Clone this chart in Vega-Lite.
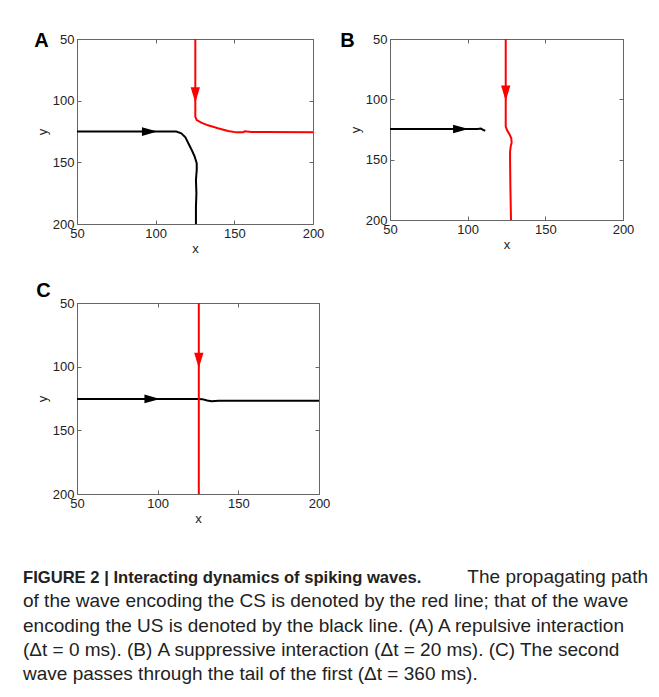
{
  "$schema": "https://vega.github.io/schema/vega-lite/v6.json",
  "padding": {"left": 23, "top": 30, "right": 5, "bottom": 5},
  "background": "white",
  "config": {
    "font": "Liberation Sans",
    "view": {"stroke": "#666666", "strokeWidth": 1},
    "axis": {
      "grid": false, "domain": false, "ticks": true, "tickSize": -4, "tickColor": "#666666",
      "labelFont": "Liberation Sans", "labelFontSize": 13, "labelColor": "#222222", "labelPadding": 7,
      "labelFlush": false, "labelOverlap": false,
      "titleFont": "Liberation Sans", "titleFontSize": 13, "titleFontWeight": "normal", "titleColor": "#222222"
    },
    "title": {"fontSize": 20, "fontWeight": "bold", "anchor": "start", "frame": "bounds", "color": "#000000"}
  },
  "datasets": {
    "paths": [
      {"p": "A", "w": "US", "i": 0, "x": 50, "y": 125.1},
      {"p": "A", "w": "US", "i": 1, "x": 100, "y": 125.1},
      {"p": "A", "w": "US", "i": 2, "x": 113.1, "y": 125.1},
      {"p": "A", "w": "US", "i": 3, "x": 116.3, "y": 126.5},
      {"p": "A", "w": "US", "i": 4, "x": 118.9, "y": 129.7},
      {"p": "A", "w": "US", "i": 5, "x": 121, "y": 135.1},
      {"p": "A", "w": "US", "i": 6, "x": 123.1, "y": 140.5},
      {"p": "A", "w": "US", "i": 7, "x": 124.8, "y": 145.4},
      {"p": "A", "w": "US", "i": 8, "x": 126.1, "y": 150.8},
      {"p": "A", "w": "US", "i": 9, "x": 126.1, "y": 156.2},
      {"p": "A", "w": "US", "i": 10, "x": 125.6, "y": 164.3},
      {"p": "A", "w": "US", "i": 11, "x": 125.9, "y": 175.1},
      {"p": "A", "w": "US", "i": 12, "x": 125.6, "y": 186},
      {"p": "A", "w": "US", "i": 13, "x": 125.6, "y": 200},
      {"p": "A", "w": "CS", "i": 0, "x": 125.2, "y": 50},
      {"p": "A", "w": "CS", "i": 1, "x": 125.2, "y": 113},
      {"p": "A", "w": "CS", "i": 2, "x": 126.1, "y": 115.7},
      {"p": "A", "w": "CS", "i": 3, "x": 129, "y": 117.8},
      {"p": "A", "w": "CS", "i": 4, "x": 133.3, "y": 120},
      {"p": "A", "w": "CS", "i": 5, "x": 139.6, "y": 122.4},
      {"p": "A", "w": "CS", "i": 6, "x": 146, "y": 124.6},
      {"p": "A", "w": "CS", "i": 7, "x": 151.3, "y": 125.7},
      {"p": "A", "w": "CS", "i": 8, "x": 155.5, "y": 125.7},
      {"p": "A", "w": "CS", "i": 9, "x": 156.6, "y": 124.9},
      {"p": "A", "w": "CS", "i": 10, "x": 160.8, "y": 125.4},
      {"p": "A", "w": "CS", "i": 11, "x": 169.3, "y": 125.4},
      {"p": "A", "w": "CS", "i": 12, "x": 200, "y": 125.7},
      {"p": "B", "w": "US", "i": 0, "x": 50, "y": 124.6},
      {"p": "B", "w": "US", "i": 1, "x": 106.4, "y": 124.6},
      {"p": "B", "w": "US", "i": 2, "x": 108.5, "y": 124.2},
      {"p": "B", "w": "US", "i": 3, "x": 110, "y": 125.3},
      {"p": "B", "w": "US", "i": 4, "x": 111.3, "y": 126},
      {"p": "B", "w": "CS", "i": 0, "x": 124.5, "y": 50},
      {"p": "B", "w": "CS", "i": 1, "x": 124.5, "y": 122.6},
      {"p": "B", "w": "CS", "i": 2, "x": 125.3, "y": 125.4},
      {"p": "B", "w": "CS", "i": 3, "x": 126.9, "y": 129},
      {"p": "B", "w": "CS", "i": 4, "x": 128.1, "y": 132.3},
      {"p": "B", "w": "CS", "i": 5, "x": 128.3, "y": 135.9},
      {"p": "B", "w": "CS", "i": 6, "x": 127.7, "y": 139.2},
      {"p": "B", "w": "CS", "i": 7, "x": 127.3, "y": 143.4},
      {"p": "B", "w": "CS", "i": 8, "x": 127.3, "y": 150.3},
      {"p": "B", "w": "CS", "i": 9, "x": 127.5, "y": 172.4},
      {"p": "B", "w": "CS", "i": 10, "x": 127.9, "y": 200},
      {"p": "C", "w": "US", "i": 0, "x": 50, "y": 125.3},
      {"p": "C", "w": "US", "i": 1, "x": 124.5, "y": 125.3},
      {"p": "C", "w": "US", "i": 2, "x": 127.6, "y": 125.5},
      {"p": "C", "w": "US", "i": 3, "x": 130.7, "y": 126.6},
      {"p": "C", "w": "US", "i": 4, "x": 133.4, "y": 127.1},
      {"p": "C", "w": "US", "i": 5, "x": 137.9, "y": 126.8},
      {"p": "C", "w": "US", "i": 6, "x": 200, "y": 126.8},
      {"p": "C", "w": "CS", "i": 0, "x": 125.5, "y": 50},
      {"p": "C", "w": "CS", "i": 1, "x": 125.5, "y": 200}
    ],
    "arrows": [
      {"p": "A", "w": "US", "x": 96.2, "y": 125.1},
      {"p": "A", "w": "CS", "x": 125.2, "y": 95.4},
      {"p": "B", "w": "US", "x": 95.6, "y": 124.6},
      {"p": "B", "w": "CS", "x": 124.5, "y": 95},
      {"p": "C", "w": "US", "x": 96.6, "y": 125.3},
      {"p": "C", "w": "CS", "x": 125.5, "y": 95.1}
    ],
    "caption": [
      {"line": 1, "part": "bold", "t": "FIGURE 2 | Interacting dynamics of spiking waves."},
      {"line": 1, "part": "tail", "t": "The propagating path"},
      {"line": 2, "part": "reg", "t": "of the wave encoding the CS is denoted by the red line; that of the wave"},
      {"line": 3, "part": "reg", "t": "encoding the US is denoted by the black line. (A) A repulsive interaction"},
      {"line": 4, "part": "reg", "t": "(Δt = 0 ms). (B) A suppressive interaction (Δt = 20 ms). (C) The second"},
      {"line": 5, "part": "reg", "t": "wave passes through the tail of the first (Δt = 360 ms)."}
    ]
  },
  "vconcat": [
    {
      "vconcat": [
        {
          "hconcat": [
            {
              "title": {"text": "A", "dy": 22, "dx": -2},
              "width": 236, "height": 185,
              "resolve": {"axis": {"x": "independent", "y": "independent"}},
              "layer": [
                {
                  "data": {"name": "paths"},
                  "transform": [{"filter": "datum.p == 'A'"}],
                  "mark": {"type": "line", "strokeWidth": 2},
                  "encoding": {
                    "x": {"field": "x", "type": "quantitative", "scale": {"domain": [50, 200], "nice": false, "zero": false}, "axis": {"title": "x", "titlePadding": 2, "values": [50, 100, 150, 200]}},
                    "y": {"field": "y", "type": "quantitative", "scale": {"domain": [50, 200], "nice": false, "zero": false, "reverse": true}, "axis": {"title": "y", "titlePadding": 3, "values": [50, 100, 150, 200]}},
                    "color": {"field": "w", "type": "nominal", "scale": {"domain": ["US", "CS"], "range": ["#000000", "#ff0000"]}, "legend": null},
                    "order": {"field": "i", "type": "quantitative"}
                  }
                },
                {
                  "data": {"name": "arrows"},
                  "transform": [{"filter": "datum.p == 'A'"}],
                  "mark": {"type": "point", "filled": true, "opacity": 1},
                  "encoding": {
                    "x": {"field": "x", "type": "quantitative", "axis": {"orient": "top", "labels": false, "title": null, "values": [50, 100, 150, 200]}},
                    "y": {"field": "y", "type": "quantitative", "axis": {"orient": "right", "labels": false, "title": null, "values": [50, 100, 150, 200]}},
                    "color": {"field": "w", "type": "nominal", "legend": null},
                    "shape": {"field": "w", "type": "nominal", "scale": {"domain": ["US", "CS"], "range": ["M-1,-0.55L1,0L-1,0.55Z", "M-0.6,-1L0.6,-1L0,1Z"]}, "legend": null},
                    "size": {"value": 240}
                  }
                }
              ]
            },
            {
              "title": {"text": "B", "dy": 22, "dx": -9},
              "width": 233, "height": 181,
              "resolve": {"axis": {"x": "independent", "y": "independent"}},
              "layer": [
                {
                  "data": {"name": "paths"},
                  "transform": [{"filter": "datum.p == 'B'"}],
                  "mark": {"type": "line", "strokeWidth": 2},
                  "encoding": {
                    "x": {"field": "x", "type": "quantitative", "scale": {"domain": [50, 200], "nice": false, "zero": false}, "axis": {"title": "x", "titlePadding": 2, "values": [50, 100, 150, 200]}},
                    "y": {"field": "y", "type": "quantitative", "scale": {"domain": [50, 200], "nice": false, "zero": false, "reverse": true}, "axis": {"title": "y", "titlePadding": 3, "values": [50, 100, 150, 200]}},
                    "color": {"field": "w", "type": "nominal", "scale": {"domain": ["US", "CS"], "range": ["#000000", "#ff0000"]}, "legend": null},
                    "order": {"field": "i", "type": "quantitative"}
                  }
                },
                {
                  "data": {"name": "arrows"},
                  "transform": [{"filter": "datum.p == 'B'"}],
                  "mark": {"type": "point", "filled": true, "opacity": 1},
                  "encoding": {
                    "x": {"field": "x", "type": "quantitative", "axis": {"orient": "top", "labels": false, "title": null, "values": [50, 100, 150, 200]}},
                    "y": {"field": "y", "type": "quantitative", "axis": {"orient": "right", "labels": false, "title": null, "values": [50, 100, 150, 200]}},
                    "color": {"field": "w", "type": "nominal", "legend": null},
                    "shape": {"field": "w", "type": "nominal", "scale": {"domain": ["US", "CS"], "range": ["M-1,-0.55L1,0L-1,0.55Z", "M-0.6,-1L0.6,-1L0,1Z"]}, "legend": null},
                    "size": {"value": 240}
                  }
                }
              ]
            }
          ],
          "spacing": 14
        },
        {
          "title": {"text": "C", "dy": 8},
          "width": 242, "height": 191,
          "resolve": {"axis": {"x": "independent", "y": "independent"}},
          "layer": [
            {
              "data": {"name": "paths"},
              "transform": [{"filter": "datum.p == 'C'"}],
              "mark": {"type": "line", "strokeWidth": 2},
              "encoding": {
                "x": {"field": "x", "type": "quantitative", "scale": {"domain": [50, 200], "nice": false, "zero": false}, "axis": {"title": "x", "titlePadding": 2, "values": [50, 100, 150, 200]}},
                "y": {"field": "y", "type": "quantitative", "scale": {"domain": [50, 200], "nice": false, "zero": false, "reverse": true}, "axis": {"title": "y", "titlePadding": 3, "values": [50, 100, 150, 200]}},
                "color": {"field": "w", "type": "nominal", "scale": {"domain": ["US", "CS"], "range": ["#000000", "#ff0000"]}, "legend": null},
                "order": {"field": "i", "type": "quantitative"}
              }
            },
            {
              "data": {"name": "arrows"},
              "transform": [{"filter": "datum.p == 'C'"}],
              "mark": {"type": "point", "filled": true, "opacity": 1},
              "encoding": {
                "x": {"field": "x", "type": "quantitative", "axis": {"orient": "top", "labels": false, "title": null, "values": [50, 100, 150, 200]}},
                "y": {"field": "y", "type": "quantitative", "axis": {"orient": "right", "labels": false, "title": null, "values": [50, 100, 150, 200]}},
                "color": {"field": "w", "type": "nominal", "legend": null},
                "shape": {"field": "w", "type": "nominal", "scale": {"domain": ["US", "CS"], "range": ["M-1,-0.55L1,0L-1,0.55Z", "M-0.6,-1L0.6,-1L0,1Z"]}, "legend": null},
                "size": {"value": 240}
              }
            }
          ]
        }
      ],
      "spacing": 24
    },
    {
      "width": 571, "height": 97,
      "view": {"stroke": null},
      "data": {"name": "caption"},
      "encoding": {
        "y": {"field": "line", "type": "quantitative", "scale": {"domain": [1, 5], "reverse": true}, "axis": null}
      },
      "layer": [
        {
          "transform": [{"filter": "datum.part == 'bold'"}],
          "mark": {"type": "text", "align": "left", "baseline": "alphabetic", "dx": -54, "fontSize": 16.6, "fontWeight": "bold", "font": "Liberation Sans", "color": "#222222"},
          "encoding": {"x": {"value": 0}, "text": {"field": "t"}}
        },
        {
          "transform": [{"filter": "datum.part == 'reg'"}],
          "mark": {"type": "text", "align": "left", "baseline": "alphabetic", "dx": -54, "fontSize": 19, "font": "Liberation Sans", "color": "#222222"},
          "encoding": {"x": {"value": 0}, "text": {"field": "t"}}
        },
        {
          "transform": [{"filter": "datum.part == 'tail'"}],
          "mark": {"type": "text", "align": "right", "baseline": "alphabetic", "fontSize": 19, "font": "Liberation Sans", "color": "#222222"},
          "encoding": {"x": {"value": "width"}, "text": {"field": "t"}}
        }
      ]
    }
  ],
  "spacing": 42
}
